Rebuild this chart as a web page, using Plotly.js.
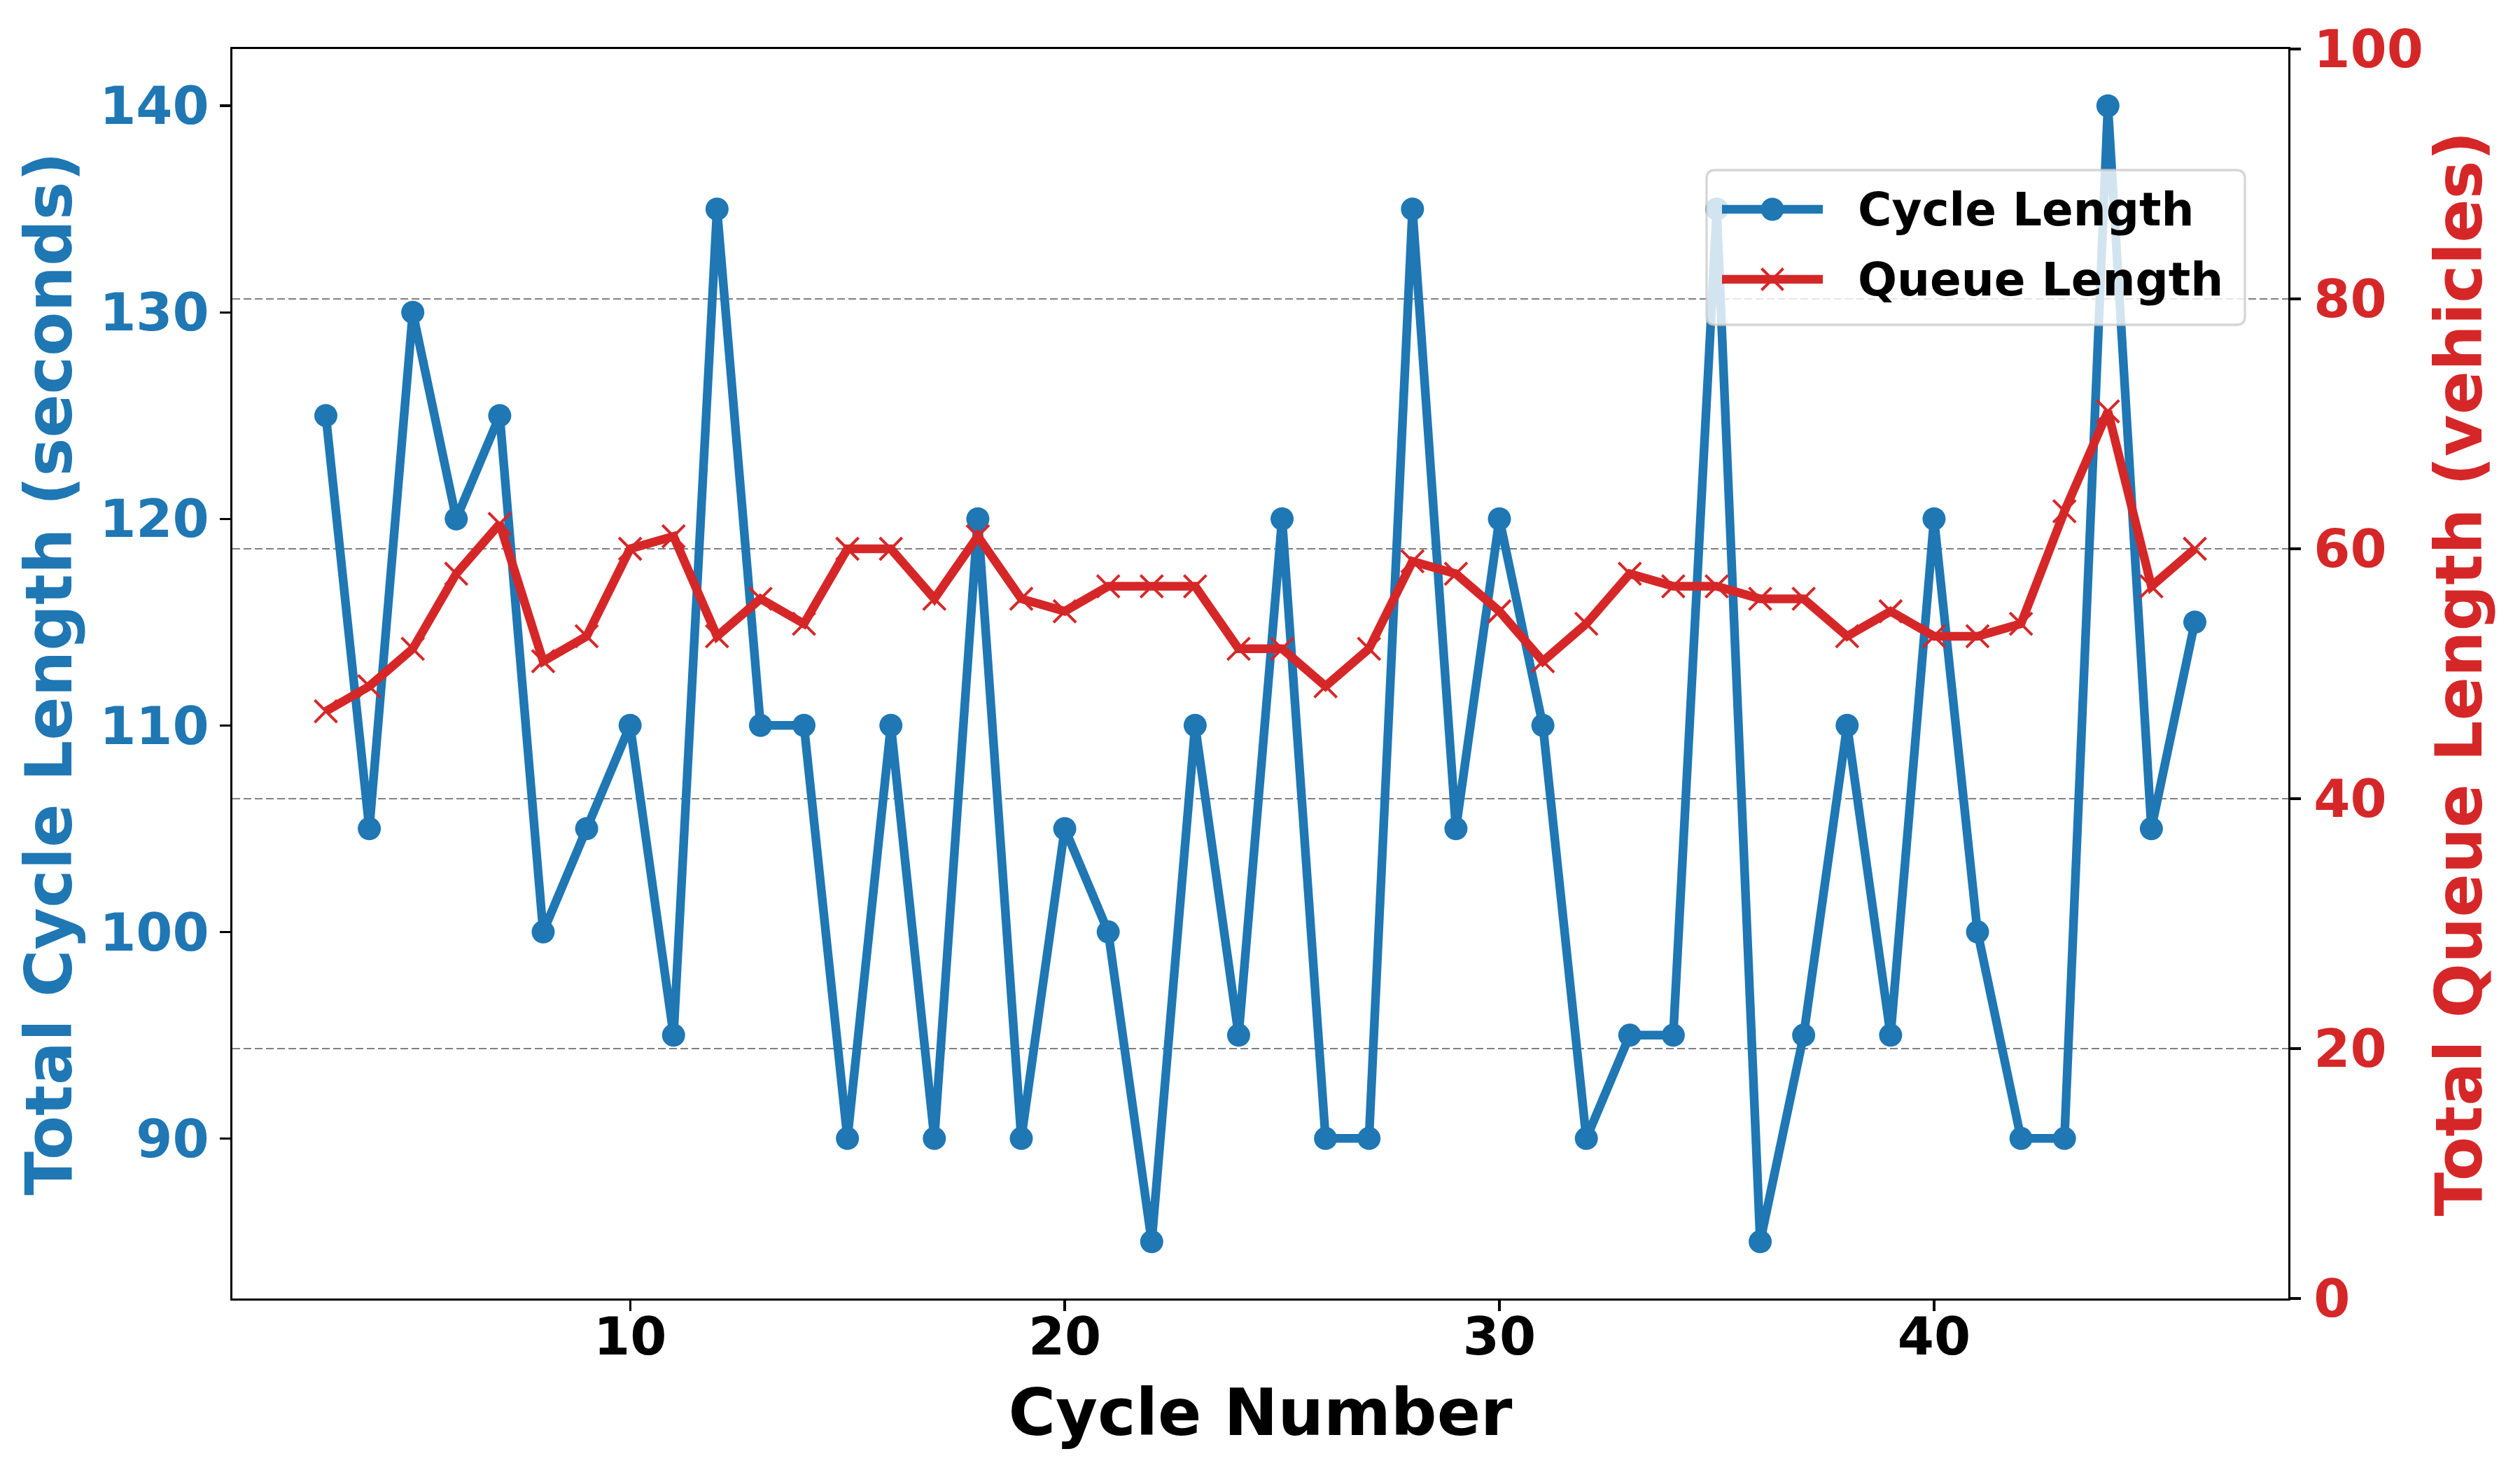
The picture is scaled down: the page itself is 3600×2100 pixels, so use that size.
<!DOCTYPE html>
<html>
<head>
<meta charset="utf-8">
<script src="https://cdn.plot.ly/plotly-3.0.1.min.js"></script>
<style>
html,body{margin:0;padding:0;background:#fff;}
#chart{width:3600px;height:2100px;}
</style>
</head>
<body>
<div id="chart"></div>
<script>
const cycleNumbers = [3,4,5,6,7,8,9,10,11,12,13,14,15,16,17,18,19,20,21,22,23,24,25,26,27,28,29,30,31,32,33,34,35,36,37,38,39,40,41,42,43,44,45,46];
const cycleLength = [125,105,130,120,125,100,105,110,95,135,110,110,90,110,90,120,90,105,100,85,110,95,120,90,90,135,105,120,110,90,95,95,135,85,95,110,95,120,100,90,90,140,105,115];
const queueLength = [47,49,52,58,62,51,53,60,61,53,56,54,60,60,56,61,56,55,57,57,57,52,52,49,52,59,58,55,51,54,58,57,57,56,56,53,55,53,53,54,63,71,57,60];
const seriesNames = ["Cycle Length", "Queue Length"];
const axisTitles = {x: "Cycle Number", y: "Total Cycle Length (seconds)", y2: "Total Queue Length (vehicles)"};

const BLUE = "#1f77b4", RED = "#d62728";
const FONT = "DejaVu Sans";
const W = 3600, H = 2100;
const M = {l: 332, r: 331, t: 70, b: 245};
const PW = W - M.l - M.r, PH = H - M.t - M.b;

const traces = [
  {
    x: cycleNumbers, y: cycleLength, name: seriesNames[0], type: "scatter", mode: "lines+markers",
    line: {color: BLUE, width: 12.5},
    marker: {color: BLUE, size: 33, symbol: "circle"},
    yaxis: "y", showlegend: false
  },
  {
    x: cycleNumbers, y: queueLength, name: seriesNames[1], type: "scatter", mode: "lines+markers",
    line: {color: RED, width: 12.5},
    marker: {color: RED, size: 32, symbol: "x-thin", line: {color: RED, width: 4}},
    yaxis: "y2", showlegend: false
  }
];

// ---- custom legend (matplotlib-style), positioned in pixel units converted to paper coords ----
function px(x) { return (x - M.l) / PW; }
function py(y) { return (H - M.b - y) / PH; }
const legBox = {x0: 2438, x1: 3207, y0: 243, y1: 464, r: 12};
function roundedRectPath(b) {
  const r = b.r;
  const X = v => px(v), Y = v => py(v);
  return "M " + X(b.x0 + r) + "," + Y(b.y0) +
    " L " + X(b.x1 - r) + "," + Y(b.y0) +
    " Q " + X(b.x1) + "," + Y(b.y0) + " " + X(b.x1) + "," + Y(b.y0 + r) +
    " L " + X(b.x1) + "," + Y(b.y1 - r) +
    " Q " + X(b.x1) + "," + Y(b.y1) + " " + X(b.x1 - r) + "," + Y(b.y1) +
    " L " + X(b.x0 + r) + "," + Y(b.y1) +
    " Q " + X(b.x0) + "," + Y(b.y1) + " " + X(b.x0) + "," + Y(b.y1 - r) +
    " L " + X(b.x0) + "," + Y(b.y0 + r) +
    " Q " + X(b.x0) + "," + Y(b.y0) + " " + X(b.x0 + r) + "," + Y(b.y0) + " Z";
}
const legRows = [
  {y: 299, color: BLUE, kind: "circle", label: seriesNames[0]},
  {y: 399, color: RED, kind: "x", label: seriesNames[1]}
];
const handle = {x0: 2460, x1: 2604, xm: 2532, textX: 2652};
const shapes = [{
  type: "path", xref: "paper", yref: "paper", layer: "above",
  path: roundedRectPath(legBox),
  fillcolor: "rgba(255,255,255,0.8)", line: {color: "rgba(204,204,204,0.8)", width: 3.3}
}];
const annotations = [];
legRows.forEach(row => {
  shapes.push({type: "line", xref: "paper", yref: "paper", layer: "above",
    x0: px(handle.x0), x1: px(handle.x1), y0: py(row.y), y1: py(row.y),
    line: {color: row.color, width: 12.5}});
  if (row.kind === "circle") {
    shapes.push({type: "circle", xref: "paper", yref: "paper", layer: "above",
      x0: px(handle.xm - 16.5), x1: px(handle.xm + 16.5), y0: py(row.y + 16.5), y1: py(row.y - 16.5),
      fillcolor: row.color, line: {color: row.color, width: 0}});
  } else {
    const d = 15.5;
    shapes.push({type: "line", xref: "paper", yref: "paper", layer: "above",
      x0: px(handle.xm - d), x1: px(handle.xm + d), y0: py(row.y - d), y1: py(row.y + d),
      line: {color: row.color, width: 4}});
    shapes.push({type: "line", xref: "paper", yref: "paper", layer: "above",
      x0: px(handle.xm - d), x1: px(handle.xm + d), y0: py(row.y + d), y1: py(row.y - d),
      line: {color: row.color, width: 4}});
  }
  annotations.push({xref: "paper", yref: "paper", x: px(handle.textX), y: py(row.y),
    xanchor: "left", yanchor: "middle", showarrow: false, text: row.label,
    font: {family: FONT, size: 66, color: "#000", weight: "bold"}});
});

const layout = {
  width: W, height: H,
  margin: M,
  paper_bgcolor: "#fff", plot_bgcolor: "#fff",
  showlegend: false,
  shapes: shapes,
  annotations: annotations,
  xaxis: {
    range: [0.85, 48.15], tick0: 0, dtick: 10,
    showgrid: false, zeroline: false,
    showline: true, linecolor: "#000", linewidth: 3.3, mirror: true,
    ticks: "outside", ticklen: 15, tickwidth: 3.3, tickcolor: "#000",
    ticklabelstandoff: -28,
    tickfont: {family: FONT, size: 75, color: "#000", weight: "bold"},
    title: {text: axisTitles.x, font: {family: FONT, size: 92, color: "#000", weight: "bold"}, standoff: 34}
  },
  yaxis: {
    range: [82.25, 142.75], tick0: 0, dtick: 10,
    showgrid: false, zeroline: false,
    showline: true, linecolor: "#000", linewidth: 3.3, mirror: true,
    ticks: "outside", ticklen: 15, tickwidth: 3.3, tickcolor: "#000",
    ticklabelstandoff: 0,
    tickfont: {family: FONT, size: 75, color: BLUE, weight: "bold"},
    title: {text: axisTitles.y, font: {family: FONT, size: 92, color: BLUE, weight: "bold"}, standoff: 10}
  },
  yaxis2: {
    range: [0, 100], tick0: 0, dtick: 20,
    overlaying: "y", side: "right",
    showgrid: true, gridcolor: "#808080", gridwidth: 2.5, griddash: "11px,5px",
    zeroline: false,
    showline: true, linecolor: "#000", linewidth: 3.3,
    ticks: "outside", ticklen: 15, tickwidth: 3.3, tickcolor: "#000",
    ticklabelstandoff: 3,
    tickfont: {family: FONT, size: 75, color: RED, weight: "bold"},
    title: {text: axisTitles.y2, font: {family: FONT, size: 92, color: RED, weight: "bold"}, standoff: 20}
  }
};

Plotly.newPlot("chart", traces, layout, {displayModeBar: false, staticPlot: true});
</script>
</body>
</html>
